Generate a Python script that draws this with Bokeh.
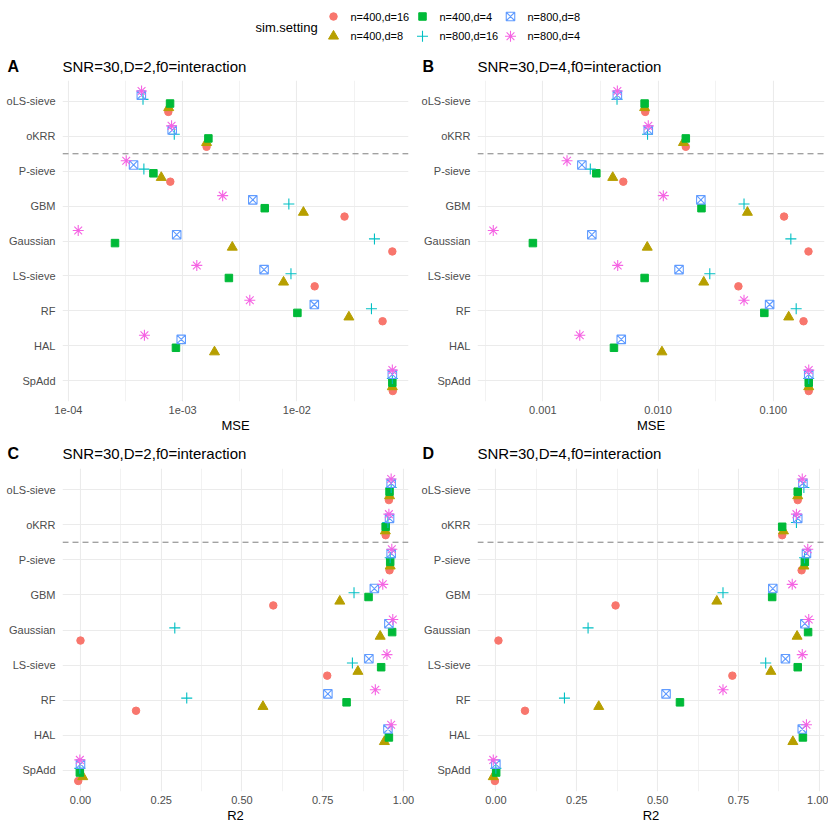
import math
from bokeh.plotting import figure
from bokeh.models import Range1d, FixedTicker, CustomJSTickFormatter, Span, ColumnDataSource
from bokeh.layouts import column, row
from bokeh.embed import file_html
from bokeh.resources import INLINE
from bokeh.core.properties import value

nan = float("nan")

methods = ["oLS-sieve", "oKRR", "P-sieve", "GBM", "Gaussian", "LS-sieve", "RF", "HAL", "SpAdd"]
settings = ["n=400,d=16", "n=400,d=8", "n=400,d=4", "n=800,d=16", "n=800,d=8", "n=800,d=4"]
colors = ["#F8766D", "#B79F00", "#00BA38", "#00BFC4", "#619CFF", "#F564E3"]
markers = ["circle", "triangle", "square", "cross", "square_x", "asterisk"]

# Panel A: MSE, D=2
mse_D2_n400_d16 = [7.5e-4, 1.62e-3, 7.8e-4, 2.61e-2, 6.84e-2, 1.43e-2, 5.62e-2, nan, 6.9e-2]
mse_D2_n400_d8 = [7.55e-4, 1.62e-3, 6.5e-4, 1.14e-2, 2.72e-3, 7.64e-3, 2.85e-2, 1.9e-3, 6.84e-2]
mse_D2_n400_d4 = [7.76e-4, 1.68e-3, 5.55e-4, 5.23e-3, 2.56e-4, 2.54e-3, 1.01e-2, 8.74e-4, 6.84e-2]
mse_D2_n800_d16 = [4.5e-4, 8.45e-4, 4.58e-4, 8.5e-3, 4.77e-2, 8.87e-3, 4.49e-2, nan, 6.84e-2]
mse_D2_n800_d8 = [4.35e-4, 8.1e-4, 3.72e-4, 4.11e-3, 8.87e-4, 5.16e-3, 1.42e-2, 9.72e-4, 6.84e-2]
mse_D2_n800_d4 = [4.37e-4, 8.0e-4, 3.21e-4, 2.24e-3, 1.22e-4, 1.33e-3, 3.87e-3, 4.63e-4, 6.84e-2]

# Panel B: MSE, D=4
mse_D4_n400_d16 = [7.73e-3, 1.74e-2, 4.99e-3, 0.124, 0.202, 4.98e-2, 0.183, nan, 0.203]
mse_D4_n400_d8 = [7.64e-3, 1.66e-2, 4.04e-3, 5.96e-2, 8.05e-3, 2.49e-2, 0.136, 1.08e-2, 0.203]
mse_D4_n400_d4 = [7.64e-3, 1.74e-2, 2.91e-3, 2.38e-2, 8.19e-4, 7.64e-3, 8.36e-2, 4.14e-3, 0.203]
mse_D4_n800_d16 = [4.4e-3, 8.1e-3, 2.58e-3, 5.57e-2, 0.142, 2.81e-2, 0.158, nan, 0.203]
mse_D4_n800_d8 = [4.43e-3, 8.22e-3, 2.18e-3, 2.35e-2, 2.66e-3, 1.52e-2, 9.29e-2, 4.79e-3, 0.203]
mse_D4_n800_d4 = [4.43e-3, 8.22e-3, 1.62e-3, 1.11e-2, 3.71e-4, 4.46e-3, 5.57e-2, 2.09e-3, 0.203]

# Panel C: R2, D=2
r2_D2_n400_d16 = [0.955, 0.945, 0.957, 0.597, 0.0, 0.764, 0.172, nan, -0.007]
r2_D2_n400_d8 = [0.957, 0.944, 0.959, 0.803, 0.928, 0.859, 0.565, 0.941, 0.007]
r2_D2_n400_d4 = [0.957, 0.945, 0.959, 0.892, 0.965, 0.931, 0.824, 0.955, -0.002]
r2_D2_n800_d16 = [0.962, 0.952, 0.959, 0.847, 0.292, 0.842, 0.329, nan, -0.002]
r2_D2_n800_d8 = [0.962, 0.957, 0.962, 0.910, 0.955, 0.893, 0.766, 0.952, 0.0]
r2_D2_n800_d4 = [0.962, 0.955, 0.964, 0.936, 0.967, 0.949, 0.913, 0.962, -0.002]

# Panel D: R2, D=4
r2_D4_n400_d16 = [0.933, 0.885, 0.945, 0.37, 0.008, 0.731, 0.09, nan, -0.003]
r2_D4_n400_d8 = [0.933, 0.889, 0.952, 0.683, 0.931, 0.85, 0.318, 0.918, -0.008]
r2_D4_n400_d4 = [0.933, 0.885, 0.955, 0.854, 0.965, 0.933, 0.569, 0.949, 0.001]
r2_D4_n800_d16 = [0.952, 0.929, 0.954, 0.702, 0.285, 0.834, 0.212, nan, 0.0]
r2_D4_n800_d8 = [0.949, 0.933, 0.96, 0.856, 0.955, 0.895, 0.526, 0.947, 0.0]
r2_D4_n800_d4 = [0.947, 0.929, 0.964, 0.916, 0.967, 0.947, 0.702, 0.96, -0.008]

panel_titles = ["SNR=30,D=2,f0=interaction", "SNR=30,D=4,f0=interaction",
                "SNR=30,D=2,f0=interaction", "SNR=30,D=4,f0=interaction"]
panel_letters = ["A", "B", "C", "D"]

A_ticks = [1e-4, 1e-3, 1e-2]
A_labels = ["1e-04", "1e-03", "1e-02"]
B_ticks = [1e-3, 1e-2, 1e-1]
B_labels = ["0.001", "0.010", "0.100"]
R_ticks = [0.0, 0.25, 0.5, 0.75, 1.0]
R_labels = ["0.00", "0.25", "0.50", "0.75", "1.00"]

FONT = "Liberation Sans"
dodge = [-0.3, -0.18, -0.06, 0.06, 0.18, 0.3]
LEFT = 62
W_L, W_R = 415, 413


def make_panel(series, log, xlabel, ticks, labels, width, right, height, bottom):
    vals = [v for s in series for v in s if not math.isnan(v)]
    if log:
        lv = [math.log10(v) for v in vals]
        lo, hi = min(lv), max(lv)
        ex = 0.05 * (hi - lo)
        xr = Range1d(10 ** (lo - ex), 10 ** (hi + ex))
        minor = [10 ** (e + 0.5) for e in range(-6, 1)]
    else:
        lo, hi = min(vals), max(vals)
        ex = 0.05 * (hi - lo)
        xr = Range1d(lo - ex, hi + ex)
        minor = [t + 0.125 for t in [-0.25] + R_ticks]
    p = figure(width=width, height=height, x_range=xr, y_range=Range1d(0.4, 9.6),
               x_axis_type="log" if log else "linear",
               output_backend="svg", toolbar_location=None,
               min_border_left=LEFT, min_border_right=right,
               min_border_top=5, min_border_bottom=bottom)
    p.outline_line_color = None
    p.background_fill_color = "white"

    p.xaxis.ticker = FixedTicker(ticks=ticks, minor_ticks=minor)
    p.xaxis.formatter = CustomJSTickFormatter(args=dict(tv=ticks, tl=labels), code="""
        for (let i = 0; i < tv.length; i++) {
            if (Math.abs(tick - tv[i]) <= 1e-6 * Math.abs(tv[i]) + 1e-12) return tl[i];
        }
        return '';
    """)
    p.yaxis.ticker = FixedTicker(ticks=list(range(1, 10)), minor_ticks=[])
    p.yaxis.major_label_overrides = {len(methods) - i: m for i, m in enumerate(methods)}

    for ax in (p.xaxis[0], p.yaxis[0]):
        ax.axis_line_color = None
        ax.major_tick_line_color = None
        ax.minor_tick_line_color = None
        ax.major_tick_in = 0
        ax.major_tick_out = 0
        ax.minor_tick_in = 0
        ax.minor_tick_out = 0
        ax.major_label_text_font = FONT
        ax.major_label_text_font_size = "11px"
        ax.major_label_text_color = "#4D4D4D"
    p.xaxis.major_label_standoff = 4
    p.yaxis.major_label_standoff = 7
    p.xaxis.axis_label = xlabel
    p.xaxis.axis_label_text_font = FONT
    p.xaxis.axis_label_text_font_size = "13px"
    p.xaxis.axis_label_text_font_style = "normal"
    p.xaxis.axis_label_text_color = "black"
    p.xaxis.axis_label_standoff = 1

    p.xgrid.grid_line_color = "#EBEBEB"
    p.xgrid.grid_line_width = 1.1
    p.xgrid.minor_grid_line_color = "#EFEFEF"
    p.xgrid.minor_grid_line_width = 0.8
    p.ygrid.grid_line_color = "#EBEBEB"
    p.ygrid.grid_line_width = 1.1
    p.ygrid.minor_grid_line_color = None

    p.add_layout(Span(location=7.5, dimension="width", line_color="#7F7F7F",
                      line_dash="6 4", line_width=1))

    ypos = [len(methods) - i for i in range(len(methods))]
    for k, s in enumerate(series):
        src = ColumnDataSource(dict(x=s, y=[yy + dodge[k] for yy in ypos]))
        draw_marker(p, src, k)
    return p


def draw_marker(p, src, k):
    c = colors[k]
    m = markers[k]
    if m in ("circle", "square"):
        p.scatter("x", "y", source=src, marker=m, size=7.5, fill_color=c, line_color=c)
    elif m == "triangle":
        p.scatter("x", "y", source=src, marker=m, size=10, fill_color=c, line_color=c)
    elif m == "square_x":
        p.scatter("x", "y", source=src, marker=m, size=8.5, fill_color=None,
                  line_color=c, line_width=1.1)
    else:
        p.scatter("x", "y", source=src, marker=m, size=11, line_color=c, line_width=1.1)


def make_header(letters, titles, height, ymid):
    h = figure(width=W_L + W_R, height=height, x_range=Range1d(0, W_L + W_R),
               y_range=Range1d(height, 0), output_backend="svg", toolbar_location=None,
               min_border=0)
    h.axis.visible = False
    h.grid.visible = False
    h.outline_line_color = None
    h.text(x=[7, W_L + 7], y=[ymid, ymid], text=letters, text_font=value(FONT),
           text_font_size="16px", text_font_style="bold", text_baseline="middle",
           text_align="left", text_color="black")
    h.text(x=[LEFT, W_L + LEFT], y=[ymid, ymid], text=titles, text_font=value(FONT),
           text_font_size="15px", text_baseline="middle", text_align="left",
           text_color="black")
    return h


pA = make_panel([mse_D2_n400_d16, mse_D2_n400_d8, mse_D2_n400_d4,
                 mse_D2_n800_d16, mse_D2_n800_d8, mse_D2_n800_d4],
                True, "MSE", A_ticks, A_labels, W_L, 7, 360, 32)
pB = make_panel([mse_D4_n400_d16, mse_D4_n400_d8, mse_D4_n400_d4,
                 mse_D4_n800_d16, mse_D4_n800_d8, mse_D4_n800_d4],
                True, "MSE", B_ticks, B_labels, W_R, 4, 360, 32)
pC = make_panel([r2_D2_n400_d16, r2_D2_n400_d8, r2_D2_n400_d4,
                 r2_D2_n800_d16, r2_D2_n800_d8, r2_D2_n800_d4],
                False, "R2", R_ticks, R_labels, W_L, 7, 362, 34)
pD = make_panel([r2_D4_n400_d16, r2_D4_n400_d8, r2_D4_n400_d4,
                 r2_D4_n800_d16, r2_D4_n800_d8, r2_D4_n800_d4],
                False, "R2", R_ticks, R_labels, W_R, 4, 362, 34)

hAB = make_header(panel_letters[:2], panel_titles[:2], 28, 19)
hCD = make_header(panel_letters[2:], panel_titles[2:], 28, 18)

# legend figure
leg = figure(width=W_L + W_R, height=47, x_range=Range1d(0, W_L + W_R), y_range=Range1d(47, 0),
             output_backend="svg", toolbar_location=None, min_border=0)
leg.axis.visible = False
leg.grid.visible = False
leg.outline_line_color = None
leg.text(x=[255], y=[27], text=["sim.setting"], text_font=value(FONT), text_font_size="13px",
         text_baseline="middle", text_align="left", text_color="black")
key_x = [333, 422, 510]
row_y = [16, 35.7]
for k, name in enumerate(settings):
    cx = key_x[k // 2]
    cy = row_y[k % 2]
    src = ColumnDataSource(dict(x=[cx], y=[cy]))
    draw_marker(leg, src, k)
    leg.text(x=[cx + 17], y=[cy], text=[name], text_font=value(FONT), text_font_size="11px",
             text_baseline="middle", text_align="left", text_color="black")

layout = column(leg, hAB, row(pA, pB), hCD, row(pC, pD))
open("out.html", "w").write(file_html(layout, INLINE))
